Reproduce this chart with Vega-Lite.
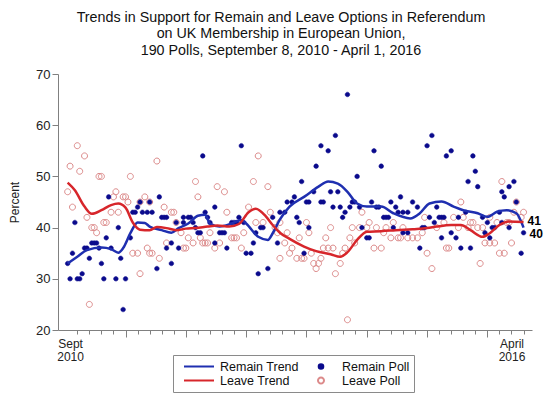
{
  "$schema": "https://vega.github.io/schema/vega-lite/v6.json",
  "width": 474,
  "height": 256,
  "autosize": "none",
  "padding": {"left": 58, "top": 74, "right": 18, "bottom": 66},
  "background": "white",
  "config": {"view": {"stroke": null}, "font": "Liberation Sans"},
  "title": {
    "text": ["Trends in Support for Remain and Leave Options in Referendum", "on UK Membership in European Union,", "190 Polls, September 8, 2010 - April 1, 2016"],
    "fontSize": 14.3, "fontWeight": "normal", "font": "Liberation Sans", "color": "#111",
    "anchor": "middle", "frame": "group", "dx": -14, "offset": 10, "lineHeight": 16.5
  },
  "datasets": {
    "leave": [
      {"i":1,"v":47},{"i":2,"v":52},{"i":3,"v":44},{"i":5,"v":56},{"i":6,"v":51},{"i":8,"v":54},{"i":9,"v":42},{"i":10,"v":25},{"i":11,"v":40},{"i":12,"v":40},{"i":13,"v":39},{"i":14,"v":50},{"i":15,"v":50},{"i":16,"v":41},{"i":17,"v":41},{"i":19,"v":43},{"i":20,"v":46},{"i":21,"v":47},{"i":22,"v":43},{"i":24,"v":46},{"i":25,"v":46},{"i":26,"v":45},{"i":27,"v":50},{"i":28,"v":35},{"i":30,"v":35},{"i":31,"v":31},{"i":31,"v":45},{"i":33,"v":46},{"i":34,"v":36},{"i":35,"v":35},{"i":35,"v":45},{"i":36,"v":35},{"i":38,"v":53},{"i":39,"v":34},{"i":41,"v":44},{"i":42,"v":37},{"i":44,"v":43},{"i":45,"v":43},{"i":46,"v":41},{"i":48,"v":39},{"i":49,"v":36},{"i":50,"v":36},{"i":51,"v":38},{"i":53,"v":37},{"i":54,"v":49},{"i":55,"v":46},{"i":56,"v":38},{"i":57,"v":37},{"i":58,"v":37},{"i":59,"v":37},{"i":60,"v":39},{"i":62,"v":36},{"i":63,"v":48},{"i":64,"v":37},{"i":66,"v":47},{"i":67,"v":43},{"i":69,"v":38},{"i":70,"v":38},{"i":71,"v":38},{"i":73,"v":36},{"i":74,"v":39},{"i":76,"v":44},{"i":78,"v":49},{"i":79,"v":41},{"i":80,"v":54},{"i":82,"v":41},{"i":84,"v":48},{"i":85,"v":43},{"i":89,"v":34},
      {"i":87,"v":40},{"i":88,"v":39},{"i":89,"v":41},{"i":91,"v":37},{"i":92,"v":39},{"i":93,"v":35},{"i":94,"v":36},{"i":96,"v":34},{"i":97,"v":38},{"i":98,"v":34},{"i":99,"v":34},{"i":100,"v":41},{"i":101,"v":39},{"i":102,"v":35},{"i":103,"v":33},{"i":104,"v":32},{"i":105,"v":33},{"i":106,"v":34},{"i":107,"v":36},{"i":108,"v":38},{"i":109,"v":36},{"i":110,"v":40},{"i":111,"v":36},{"i":112,"v":31},{"i":114,"v":33},{"i":115,"v":35},{"i":116,"v":36},{"i":117,"v":22},{"i":118,"v":38},{"i":119,"v":40},{"i":120,"v":37},{"i":122,"v":40},{"i":123,"v":43},{"i":125,"v":40},{"i":126,"v":41},{"i":128,"v":36},{"i":129,"v":40},{"i":131,"v":36},{"i":132,"v":39},{"i":133,"v":40},{"i":135,"v":38},{"i":136,"v":41},{"i":138,"v":38},{"i":139,"v":38},{"i":140,"v":40},{"i":142,"v":38},{"i":144,"v":38},{"i":146,"v":38},{"i":148,"v":39},{"i":149,"v":42},{"i":150,"v":35},{"i":152,"v":32},{"i":154,"v":40},{"i":157,"v":41},{"i":158,"v":36},{"i":159,"v":36},{"i":161,"v":42},{"i":163,"v":40},{"i":164,"v":45},{"i":165,"v":42},{"i":167,"v":40},{"i":168,"v":41},{"i":169,"v":41},{"i":171,"v":40},{"i":172,"v":33},{"i":173,"v":40},{"i":174,"v":37},{"i":176,"v":37},{"i":176,"v":42},{"i":178,"v":37},{"i":179,"v":41},{"i":180,"v":35},{"i":181,"v":49},{"i":182,"v":35},{"i":183,"v":41},{"i":184,"v":41},{"i":185,"v":37},{"i":186,"v":43},{"i":187,"v":45},{"i":189,"v":42},{"i":190,"v":43}
    ],
    "remain": [
      {"i":1,"v":33},{"i":2,"v":30},{"i":3,"v":35},{"i":4,"v":41},{"i":5,"v":30},{"i":6,"v":30},{"i":7,"v":31},{"i":8,"v":36},{"i":9,"v":36},{"i":10,"v":34},{"i":11,"v":37},{"i":12,"v":37},{"i":13,"v":37},{"i":14,"v":36},{"i":15,"v":33},{"i":16,"v":30},{"i":17,"v":38},{"i":18,"v":46},{"i":19,"v":36},{"i":21,"v":30},{"i":22,"v":40},{"i":23,"v":34},{"i":24,"v":24},{"i":25,"v":30},{"i":27,"v":38},{"i":28,"v":43},{"i":29,"v":43},{"i":30,"v":44},{"i":31,"v":45},{"i":32,"v":43},{"i":34,"v":43},{"i":35,"v":45},{"i":36,"v":43},{"i":38,"v":32},{"i":39,"v":46},{"i":40,"v":42},{"i":41,"v":42},{"i":42,"v":42},{"i":42,"v":36},{"i":44,"v":37},{"i":44,"v":33},{"i":46,"v":41},{"i":47,"v":36},{"i":49,"v":41},{"i":49,"v":42},{"i":51,"v":42},{"i":52,"v":42},{"i":53,"v":41},{"i":54,"v":40},{"i":55,"v":39},{"i":56,"v":39},{"i":57,"v":54},{"i":58,"v":43},{"i":59,"v":42},{"i":60,"v":41},{"i":62,"v":44},{"i":62,"v":37},{"i":64,"v":39},{"i":65,"v":39},{"i":66,"v":39},{"i":67,"v":36},{"i":69,"v":41},{"i":70,"v":41},{"i":71,"v":41},{"i":72,"v":42},{"i":73,"v":56},{"i":74,"v":41},{"i":75,"v":35},{"i":77,"v":35},{"i":78,"v":37},{"i":79,"v":39},{"i":80,"v":31},{"i":81,"v":40},{"i":82,"v":40},{"i":84,"v":32},{"i":86,"v":42},{"i":88,"v":37},{"i":89,"v":43},
      {"i":91,"v":43},{"i":92,"v":45},{"i":94,"v":45},{"i":95,"v":46},{"i":96,"v":42},{"i":97,"v":41},{"i":98,"v":49},{"i":99,"v":35},{"i":100,"v":45},{"i":101,"v":45},{"i":101,"v":40},{"i":103,"v":47},{"i":104,"v":52},{"i":106,"v":56},{"i":106,"v":45},{"i":107,"v":45},{"i":109,"v":55},{"i":110,"v":47},{"i":111,"v":44},{"i":112,"v":58},{"i":113,"v":47},{"i":114,"v":44},{"i":115,"v":42},{"i":116,"v":43},{"i":117,"v":66},{"i":118,"v":44},{"i":119,"v":45},{"i":120,"v":45},{"i":121,"v":50},{"i":122,"v":44},{"i":123,"v":40},{"i":125,"v":38},{"i":126,"v":38},{"i":127,"v":45},{"i":128,"v":55},{"i":129,"v":44},{"i":130,"v":44},{"i":131,"v":52},{"i":132,"v":42},{"i":133,"v":42},{"i":134,"v":42},{"i":135,"v":45},{"i":136,"v":40},{"i":137,"v":44},{"i":138,"v":43},{"i":139,"v":46},{"i":140,"v":39},{"i":140,"v":43},{"i":142,"v":43},{"i":142,"v":39},{"i":144,"v":45},{"i":146,"v":44},{"i":147,"v":36},{"i":148,"v":40},{"i":149,"v":40},{"i":150,"v":56},{"i":151,"v":42},{"i":152,"v":58},{"i":153,"v":41},{"i":154,"v":44},{"i":155,"v":42},{"i":156,"v":42},{"i":156,"v":38},{"i":157,"v":42},{"i":158,"v":54},{"i":160,"v":55},{"i":160,"v":39},{"i":162,"v":38},{"i":163,"v":42},{"i":164,"v":36},{"i":166,"v":43},{"i":167,"v":49},{"i":168,"v":36},{"i":169,"v":54},{"i":170,"v":51},{"i":171,"v":48},{"i":173,"v":42},{"i":174,"v":39},{"i":175,"v":41},{"i":176,"v":38},{"i":177,"v":40},{"i":178,"v":40},{"i":180,"v":43},{"i":181,"v":41},{"i":181,"v":47},{"i":182,"v":46},{"i":184,"v":48},{"i":184,"v":40},{"i":186,"v":49},{"i":187,"v":45},{"i":189,"v":35},{"i":190,"v":39}
    ],
    "remainTrend": [
      {"i":1,"v":33},{"i":5,"v":34.3},{"i":9,"v":35.6},{"i":15,"v":36.1},{"i":19,"v":35.8},{"i":22,"v":35.1},{"i":24,"v":36},{"i":27,"v":38.9},{"i":30,"v":41},{"i":33,"v":40.9},{"i":35,"v":40.2},{"i":40,"v":39.5},{"i":44,"v":39},{"i":47,"v":39.9},{"i":51,"v":40.8},{"i":55,"v":42.3},{"i":58,"v":42.5},{"i":60,"v":40.8},{"i":64,"v":40.2},{"i":69,"v":40.8},{"i":73,"v":41.5},{"i":75,"v":40.8},{"i":80,"v":38.2},{"i":84,"v":37.6},{"i":86,"v":38.9},{"i":89,"v":41.6},{"i":93,"v":44.1},{"i":99,"v":46},{"i":105,"v":48},{"i":109,"v":49},{"i":113,"v":48.6},{"i":117,"v":47},{"i":121,"v":44.7},{"i":125,"v":44.1},{"i":131,"v":44.1},{"i":136,"v":42.8},{"i":143,"v":41.8},{"i":147,"v":42.8},{"i":151,"v":44.7},{"i":156,"v":45.1},{"i":161,"v":44.1},{"i":165,"v":43.4},{"i":171,"v":42.8},{"i":175,"v":42.1},{"i":179,"v":43.1},{"i":183,"v":43.4},{"i":187,"v":42.8},{"i":190,"v":40}
    ],
    "leaveTrend": [
      {"i":1,"v":48.8},{"i":4,"v":47.3},{"i":8,"v":44.1},{"i":11,"v":42.7},{"i":15,"v":43.4},{"i":19,"v":44.4},{"i":22,"v":44.7},{"i":25,"v":43.9},{"i":28,"v":41},{"i":31,"v":39.6},{"i":35,"v":39.5},{"i":38,"v":40.1},{"i":42,"v":39.9},{"i":46,"v":39.5},{"i":50,"v":39.8},{"i":54,"v":39.9},{"i":59,"v":40.2},{"i":63,"v":40.4},{"i":68,"v":40.2},{"i":72,"v":40.7},{"i":76,"v":43},{"i":79,"v":43.7},{"i":83,"v":42.3},{"i":86,"v":40.5},{"i":89,"v":39},{"i":93,"v":37.8},{"i":99,"v":36.3},{"i":104,"v":35.4},{"i":110,"v":34.8},{"i":114,"v":34.3},{"i":117,"v":35.2},{"i":121,"v":37.6},{"i":125,"v":39.2},{"i":131,"v":39.3},{"i":137,"v":39.5},{"i":144,"v":39.7},{"i":150,"v":39.9},{"i":154,"v":40.2},{"i":160,"v":40.5},{"i":164,"v":40.5},{"i":168,"v":39.5},{"i":173,"v":38.2},{"i":176,"v":38.9},{"i":180,"v":40.5},{"i":184,"v":41.2},{"i":190,"v":41.1}
    ],
    "ends": [{"i":190,"v":41,"t":"41"},{"i":190,"v":40,"t":"40"}]
  },
  "encoding": {
    "x": {
      "field": "i", "type": "quantitative",
      "scale": {"domain": [-3, 193.5], "nice": false, "zero": false},
      "axis": {
        "title": null, "grid": false,
        "values": [2,5,10,15,20,25,30,35,40,45,50,55,60,65,70,75,80,85,90,95,100,105,110,115,120,125,130,135,140,145,150,155,160,165,170,175,180,185,190],
        "tickSize": {"condition": {"test": "datum.value % 25 === 0", "value": 7}, "value": 4},
        "tickOpacity": {"condition": {"test": "datum.value === 2", "value": 0}, "value": 1},
        "labelExpr": "datum.value === 2 ? ['Sept', '2010'] : (datum.value === 185 ? ['April', '2016'] : '')",
        "labelOverlap": false, "labelFlush": false, "labelFontSize": 12, "labelColor": "#222",
        "labelLineHeight": 13.5, "labelPadding": 4, "labelBaseline": "top",
        "domainColor": "#808080", "tickColor": "#808080"
      }
    },
    "y": {
      "field": "v", "type": "quantitative",
      "scale": {"domain": [20, 70], "nice": false, "zero": false},
      "axis": {
        "title": "Percent", "grid": false, "values": [20,30,40,50,60,70],
        "tickSize": 6, "labelPadding": 2, "labelFontSize": 13, "labelColor": "#222",
        "titleFontSize": 12, "titleFontWeight": "normal", "titleColor": "#222", "titlePadding": 14,
        "domainColor": "#808080", "tickColor": "#808080"
      }
    }
  },
  "layer": [
    {
      "data": {"name": "leave"},
      "mark": {"type": "point", "filled": true, "opacity": 1, "size": 169, "strokeWidth": 1},
      "encoding": {
        "stroke": {
          "datum": "Leave Poll", "type": "nominal",
          "scale": {"domain": ["Remain Trend", "Remain Poll", "Leave Trend", "Leave Poll"], "range": ["#1f2fb0", "#0a0a8c", "#d7262b", "#dc8a8a"]},
          "legend": {
            "title": null, "orient": "none", "legendX": 115, "legendY": 281,
            "direction": "horizontal", "columns": 2, "columnPadding": 0, "rowPadding": 0, "padding": 4,
            "strokeColor": "#8a8a8a", "labelFontSize": 12.5, "labelColor": "#111",
            "symbolSize": 169, "symbolStrokeWidth": 2, "symbolOffset": 14.5, "labelOffset": 13.5
          }
        },
        "fill": {
          "datum": "Leave Poll", "type": "nominal",
          "scale": {"domain": ["Remain Trend", "Remain Poll", "Leave Trend", "Leave Poll"], "range": ["transparent", "#0a0a8c", "transparent", "transparent"]}
        },
        "shape": {
          "datum": "Leave Poll", "type": "nominal",
          "scale": {"domain": ["Remain Trend", "Remain Poll", "Leave Trend", "Leave Poll"], "range": ["M-2.31,0L2.31,0", "M-0.354,0A0.354,0.354 0 1,0 0.354,0A0.354,0.354 0 1,0 -0.354,0Z", "M-2.31,0L2.31,0", "M-0.46,0A0.46,0.46 0 1,0 0.46,0A0.46,0.46 0 1,0 -0.46,0Z"]}
        }
      }
    },
    {
      "data": {"name": "remain"},
      "mark": {"type": "point", "filled": true, "opacity": 1, "size": 169, "strokeWidth": 0.5},
      "encoding": {
        "stroke": {"datum": "Remain Poll", "type": "nominal"},
        "fill": {"datum": "Remain Poll", "type": "nominal"},
        "shape": {"datum": "Remain Poll", "type": "nominal"}
      }
    },
    {
      "data": {"name": "remainTrend"},
      "mark": {"type": "line", "interpolate": "monotone", "strokeWidth": 2.5},
      "encoding": {"stroke": {"datum": "Remain Trend", "type": "nominal"}}
    },
    {
      "data": {"name": "leaveTrend"},
      "mark": {"type": "line", "interpolate": "monotone", "strokeWidth": 2.5},
      "encoding": {"stroke": {"datum": "Leave Trend", "type": "nominal"}}
    },
    {
      "data": {"name": "ends"},
      "transform": [{"filter": "datum.t === '41'"}],
      "mark": {"type": "text", "align": "left", "baseline": "middle", "dx": 4, "dy": -1, "fontSize": 12, "fontWeight": "bold", "color": "#000"},
      "encoding": {"text": {"field": "t"}}
    },
    {
      "data": {"name": "ends"},
      "transform": [{"filter": "datum.t === '40'"}],
      "mark": {"type": "text", "align": "left", "baseline": "middle", "dx": 6, "dy": 6, "fontSize": 12, "fontWeight": "bold", "color": "#000"},
      "encoding": {"text": {"field": "t"}}
    }
  ]
}
